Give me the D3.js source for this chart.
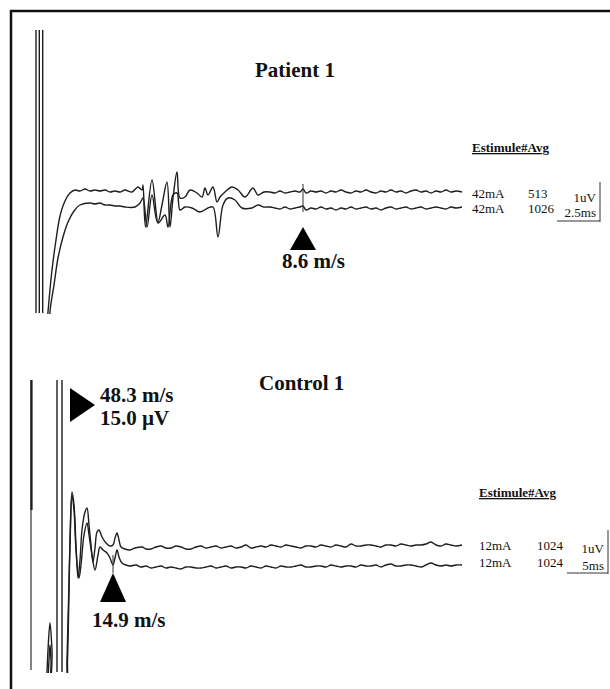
<!DOCTYPE html>
<html>
<head>
<meta charset="utf-8">
<script src="https://cdn.jsdelivr.net/npm/d3@7"></script>
<style>
  body { margin: 0; background: #fff; }
  svg { display: block; }
  .trace { fill: none; stroke: #1e1e1e; stroke-width: 1.4; stroke-linejoin: round; }
  .big { font-family: "Liberation Serif", "Times New Roman", serif; font-weight: bold; font-size: 21px; fill: #111; }
  .small { font-family: "Liberation Serif", "Times New Roman", serif; font-size: 13px; fill: #111; }
</style>
</head>
<body>
<svg width="610" height="689"></svg>
<script>
// ---- data (time in ms, amplitude in uV) ----
var patientUpper = [
  [1.0,-14],[1.2,-11.2],[1.6,-7.0],[2.0,-4.0],[2.4,-1.6],[2.9,-0.1],[3.4,0.7],[3.9,1.0],
  [4.4,0.9],[4.9,1.1],[5.4,0.9],[5.9,1.0],[6.4,0.9],[6.9,1.0],[7.4,0.8],[7.9,0.9],[8.4,0.8],
  [8.9,1.0],[9.6,0.8],[10.2,1.3],[10.6,1.0],[10.7,1.5],[10.95,-2.7],[11.6,2.0],[12.2,-2.2],
  [12.6,-0.5],[13.1,1.8],[13.4,-2.7],[13.7,0.2],[14.1,2.8],[14.4,0.2],[14.9,0.3],[15.4,1.0],
  [16.1,0.7],[16.6,0.3],[16.9,1.2],[17.2,0.5],[17.7,1.3],[18.1,-0.2],[18.4,0.3],[18.9,0.8],
  [19.6,1.3],[20.2,1.0],[20.9,0.3],[21.7,1.2],[22.2,0.5],[22.8,0.8],[23.4,0.8],
  [23.9,0.7],[24.4,0.9],[24.9,0.7],[25.4,0.8],[25.9,0.9],[26.4,0.8],[26.7,1.1],[27.0,0.7],
  [27.5,0.9],[28.0,0.8],[28.5,0.9],[29.0,0.7],[29.5,0.9],[30.0,0.8],[30.5,1.0],[31.0,0.8],
  [31.5,0.7],[32.0,0.9],[32.5,0.8],[33.0,1.0],[33.5,0.8],[34.0,0.7],[34.5,0.9],[35.0,0.8],
  [35.5,1.0],[36.0,0.8],[36.5,0.9],[37.0,0.7],[37.5,0.9],[38.0,1.0],[38.5,0.8],[39.0,0.9],
  [39.5,0.7],[40.0,0.9],[40.5,0.8],[41.0,1.0],[41.5,0.8],[42.0,0.9],[42.6,0.8]
];
var patientLower = [
  [1.4,-14],[1.4,-11.2],[1.8,-8.5],[2.2,-5.8],[2.7,-3.7],[3.2,-2.2],[3.8,-1.1],[4.4,-0.5],
  [5.4,-0.3],[5.9,-0.4],[6.4,-0.3],[6.9,-0.5],[7.4,-0.5],[7.9,-0.6],[8.4,-0.6],[8.9,-0.7],
  [9.9,-0.7],[10.4,-0.3],[10.7,0.2],[11.1,-2.7],[11.6,0.5],[12.2,-2.3],[12.9,-1.5],[13.2,-2.7],
  [13.7,0.5],[14.1,0.7],[14.4,-1.0],[14.9,-0.7],[15.6,-0.8],[16.4,-1.2],[17.2,-0.8],[17.7,-0.7],
  [18.2,-3.7],[18.7,-0.5],[19.2,0.2],[19.9,0],[20.6,-0.8],[21.6,-0.8],[22.2,-0.5],[22.8,-0.7],
  [23.4,-0.7],[23.9,-0.8],[24.4,-0.9],[24.9,-0.7],[25.4,-0.9],[25.9,-0.8],[26.4,-0.7],[26.7,-0.6],
  [27.0,-1.0],[27.5,-0.8],[28.0,-0.9],[28.5,-0.7],[29.0,-0.9],[29.5,-0.8],[30.0,-1.0],[30.5,-0.8],
  [31.0,-0.9],[31.5,-0.7],[32.0,-0.9],[32.5,-0.8],[33.0,-0.7],[33.5,-0.9],[34.0,-0.8],[34.5,-1.0],
  [35.0,-0.8],[35.5,-0.7],[36.0,-0.9],[36.5,-0.8],[37.0,-0.7],[37.5,-0.9],[38.0,-0.8],[38.5,-0.7],
  [39.0,-0.9],[39.5,-0.8],[40.0,-0.7],[40.5,-0.8],[41.0,-0.9],[41.5,-0.7],[42.0,-0.8],[42.6,-0.7]
];
var controlUpper = [
  [1.5,-14.5],[1.7,-9.5],[1.9,-6.8],[2.1,-9.5],[2.3,-14.5],[3.4,-14.5],[3.6,-10.5],[3.9,1.5],
  [4.1,6.3],[4.3,5.0],[4.5,1.0],[4.7,-2.3],[4.9,-0.5],[5.1,2.5],[5.4,4.3],[5.6,4.7],
  [5.8,3.0],[6.0,1.0],[6.2,-0.7],[6.4,0.7],[6.6,2.3],[6.8,2.5],[7.1,1.8],[7.5,1.2],
  [7.9,0.9],[8.2,1.0],[8.4,1.7],[8.6,2.2],[8.8,1.5],[9.0,0.8],[9.4,0.6],[9.9,0.5],
  [10.4,0.7],[11.1,0.8],[11.5,0.6],[12,0.6],[12.5,0.8],[13,0.9],[13.5,0.7],[14,0.7],[14.5,0.9],
  [15,0.8],[15.5,0.6],[16,0.6],[16.5,0.8],[17,0.9],[17.5,0.7],[18,0.8],[18.5,0.9],
  [19,0.7],[19.5,0.8],[20,0.9],[20.5,0.7],[21,0.8],[21.5,1.0],[22,0.7],[22.5,0.8],[23,0.9],
  [23.5,0.8],[24,1.0],[24.5,0.9],[25,0.8],[25.5,1.0],[26,0.9],[26.5,0.8],[27,0.7],[27.5,0.9],
  [28,0.9],[28.5,0.8],[29,1.0],[29.5,0.9],[30,0.8],[30.5,1.0],[31,0.9],[31.5,0.8],[32,1.1],
  [32.5,0.9],[33,0.9],[33.5,1.0],[34,1.0],[34.5,0.9],[35,0.8],[35.5,1.0],[36,1.0],[36.5,0.9],
  [37,1.1],[37.5,1.0],[38,0.9],[38.5,1.0],[39,1.0],[39.5,1.1],[40,1.3],[40.5,1.0],[41,0.9],
  [41.5,1.1],[42,1.0],[42.5,0.9],[43.1,1.0]
];
var controlLower = [
  [1.6,-14.5],[1.8,-10.5],[1.9,-9.0],[2.0,-10.5],[2.2,-14.5],[3.45,-14.5],[3.65,-10.5],[3.9,1.0],
  [4.1,6.0],[4.3,4.5],[4.5,0.5],[4.8,-2.3],[5.0,-1.0],[5.3,2.0],[5.6,3.2],[5.8,2.0],
  [6.1,0],[6.4,-1.5],[6.7,0],[6.9,0.8],[7.2,0.5],[7.6,0.2],[7.9,-0.3],[8.2,-1.0],
  [8.4,-0.3],[8.6,0.5],[8.8,-0.2],[9.1,-0.8],[9.5,-1.0],[9.9,-1.1],[10.5,-1.0],[11,-1.2],
  [11.5,-1.1],[12,-1.3],[12.5,-1.2],[13,-1.1],[13.5,-1.3],[14,-1.2],[14.5,-1.3],[15,-1.4],
  [15.5,-1.2],[16,-1.2],[16.5,-1.3],[17,-1.3],[17.5,-1.2],[18,-1.1],[18.5,-1.3],[19,-1.2],
  [19.5,-1.1],[20,-1.3],[20.5,-1.2],[21,-1.2],[21.5,-1.3],[22,-1.1],[22.5,-1.2],[23,-1.3],
  [23.5,-1.1],[24,-1.2],[24.5,-1.3],[25,-1.1],[25.5,-1.2],[26,-1.2],[26.5,-1.1],[27,-1.0],
  [27.5,-1.2],[28,-1.2],[28.5,-1.1],[29,-1.1],[29.5,-1.2],[30,-1.0],[30.5,-1.1],[31,-1.2],
  [31.5,-1.1],[32,-1.1],[32.5,-1.2],[33,-1.0],[33.5,-1.1],[34,-1.1],[34.5,-1.0],[35,-1.2],
  [35.5,-1.0],[36,-0.9],[36.5,-1.1],[37,-1.1],[37.5,-1.0],[38,-1.0],[38.5,-1.1],[39,-1.2],
  [39.5,-1.0],[40,-0.8],[40.5,-1.0],[41,-1.1],[41.5,-1.0],[42,-1.1],[42.5,-1.0],[43.1,-1.0]
];
// stimulus artifact lines {t, from, to, w}
var patientArtifacts = [
  {t: 0, from: -11.3, to: 17, w: 1.4}, {t: 0.33, from: -11.3, to: 17, w: 1.4}, {t: 0.67, from: -11.3, to: 17, w: 1.4}
];
var controlArtifacts = [
  {t: 0, from: -11.5, to: 17.5, w: 1.1}, {t: 0.05, from: 4.5, to: 17.5, w: 2.2},
  {t: 2.6, from: -11.7, to: 17.5, w: 1.4}, {t: 3.1, from: -11.7, to: 17.5, w: 1.4}
];
// cursor markers
var patientMarker = {t: 26.7, from: -1.2, to: 1.6, label: "8.6 m/s"};
var controlMarker = {t: 8.2, from: -1.8, to: 0, label: "14.9 m/s"};
var controlPeak = {t: 6.4, v: 15.0, lines: ["48.3 m/s", "15.0 \u00b5V"]};

var patientRows = [["42mA", "513"], ["42mA", "1026"]];
var controlRows = [["12mA", "1024"], ["12mA", "1024"]];
var patientScale = ["1uV", "2.5ms"];
var controlScale = ["1uV", "5ms"];

var svg = d3.select("svg");

// frame
svg.append("line").attr("x1", 10).attr("y1", 11).attr("x2", 610).attr("y2", 11)
  .attr("stroke", "#111").attr("stroke-width", 2.5);
svg.append("line").attr("x1", 11).attr("y1", 10).attr("x2", 11).attr("y2", 689)
  .attr("stroke", "#111").attr("stroke-width", 2.5);

function panel(opt) {
  var x = d3.scaleLinear().domain([0, 50]).range([opt.x0, opt.x0 + 500]);
  var y = d3.scaleLinear().domain([0, 10]).range([opt.y0, opt.y0 - 100]);
  var g = svg.append("g");

  g.append("clipPath").attr("id", opt.id)
    .append("rect")
    .attr("x", 0).attr("width", 610)
    .attr("y", y(opt.clip[1])).attr("height", y(opt.clip[0]) - y(opt.clip[1]));

  var line = d3.line()
    .x(function(d) { return x(d[0]); })
    .y(function(d) { return y(d[1]); })
    .curve(d3.curveCatmullRom.alpha(0.5));
  var traces = g.append("g").attr("clip-path", "url(#" + opt.id + ")");

  traces.selectAll("line.art")
    .data(opt.artifacts)
    .enter().append("line")
    .attr("class", "art")
    .attr("x1", function(d) { return x(d.t); }).attr("x2", function(d) { return x(d.t); })
    .attr("y1", function(d) { return y(d.from); }).attr("y2", function(d) { return y(d.to); })
    .attr("stroke", "#1e1e1e").attr("stroke-width", function(d) { return d.w; });

  traces.selectAll("path")
    .data(opt.series)
    .enter().append("path")
    .attr("class", "trace")
    .attr("d", line);

  // cursor tick
  var m = opt.marker;
  g.append("line")
    .attr("x1", x(m.t)).attr("x2", x(m.t))
    .attr("y1", y(m.from)).attr("y2", y(m.to))
    .attr("stroke", "#333").attr("stroke-width", 1);

  // up triangle under cursor
  var tx = x(m.t), ty = opt.triTop;
  g.append("path")
    .attr("d", "M" + tx + "," + ty + "L" + (tx + 13) + "," + (ty + opt.triH) + "L" + (tx - 13) + "," + (ty + opt.triH) + "Z")
    .attr("fill", "#000");
  g.append("text").attr("class", "big")
    .attr("x", tx + opt.labelDx).attr("y", ty + opt.triH + opt.labelDy)
    .text(m.label);

  // title
  g.append("text").attr("class", "big")
    .attr("x", opt.titleX).attr("y", opt.titleY)
    .text(opt.title);

  // stimulus / averages table
  var lx = opt.tableX;
  g.append("text").attr("class", "small")
    .attr("x", lx).attr("y", opt.headY)
    .attr("font-weight", "bold").attr("font-size", 12)
    .attr("text-decoration", "underline")
    .text("Estimule#Avg");
  g.selectAll("text.row")
    .data(opt.rows)
    .enter().append("text")
    .attr("class", "small row")
    .attr("x", lx)
    .attr("y", function(d, i) { return opt.rowY[i]; })
    .text(function(d) { return d[0]; });
  g.selectAll("text.avg")
    .data(opt.rows)
    .enter().append("text")
    .attr("class", "small avg")
    .attr("x", lx + opt.avgDx)
    .attr("y", function(d, i) { return opt.rowY[i]; })
    .text(function(d) { return d[1]; });

  // calibration bracket
  var b = opt.bracket;
  g.append("line").attr("x1", b.x).attr("x2", b.x).attr("y1", b.y0).attr("y2", b.y1)
    .attr("stroke", "#333").attr("stroke-width", 1);
  g.append("line").attr("x1", b.x - b.w).attr("x2", b.x).attr("y1", b.y1 - 1).attr("y2", b.y1 - 1)
    .attr("stroke", "#333").attr("stroke-width", 1);
  g.append("text").attr("class", "small")
    .attr("x", b.x - 4).attr("y", b.vy).attr("text-anchor", "end")
    .attr("font-size", b.fs)
    .text(opt.scale[0]);
  g.append("text").attr("class", "small")
    .attr("x", b.x - 4).attr("y", b.ty).attr("text-anchor", "end")
    .attr("font-size", b.fs)
    .text(opt.scale[1]);

  return {g: g, x: x, y: y};
}

panel({
  id: "clipP", x0: 36, y0: 200, clip: [-11.4, 17],
  series: [patientUpper, patientLower], artifacts: patientArtifacts,
  marker: patientMarker, triTop: 227, triH: 23, labelDx: -21, labelDy: 18,
  title: "Patient 1", titleX: 255, titleY: 77,
  tableX: 472, headY: 152, rows: patientRows, rowY: [198, 213], avgDx: 56,
  scale: patientScale,
  bracket: {x: 600, y0: 182, y1: 222, w: 43, vy: 202, ty: 217, fs: 13}
});

var c = panel({
  id: "clipC", x0: 31, y0: 555, clip: [-11.8, 17.5],
  series: [controlUpper, controlLower], artifacts: controlArtifacts,
  marker: controlMarker, triTop: 573, triH: 29, labelDx: -21, labelDy: 25,
  title: "Control 1", titleX: 259, titleY: 390,
  tableX: 479, headY: 497, rows: controlRows, rowY: [550, 567], avgDx: 58,
  scale: controlScale,
  bracket: {x: 608, y0: 530, y1: 574, w: 41, vy: 553, ty: 570, fs: 14}
});

// right-pointing triangle at the control peak
var px = c.x(controlPeak.t), py = c.y(controlPeak.v);
c.g.append("path")
  .attr("d", "M" + px + "," + py + "L" + (px - 25) + "," + (py - 17) + "L" + (px - 25) + "," + (py + 17) + "Z")
  .attr("fill", "#000");
c.g.selectAll("text.peak")
  .data(controlPeak.lines)
  .enter().append("text")
  .attr("class", "big peak")
  .attr("x", px + 5)
  .attr("y", function(d, i) { return py - 3 + i * 23; })
  .text(function(d) { return d; });
</script>
</body>
</html>
